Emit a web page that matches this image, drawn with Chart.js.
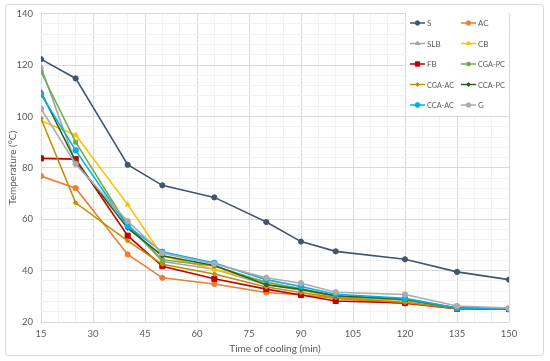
<!DOCTYPE html>
<html>
<head>
<meta charset="utf-8">
<script src="https://cdn.jsdelivr.net/npm/chart.js@4"></script>
<style>
body { margin: 0; background: #fff; }
#wrap { width: 550px; height: 361px; }
</style>
</head>
<body>
<div id="wrap"><canvas id="chart1" width="550" height="361"></canvas></div>
<script>
// cooling time (min) at which each temperature was taken
const times = [15, 25, 40, 50, 65, 80, 90, 100, 120, 135, 150];
const seriesNames = ['S', 'AC', 'SLB', 'CB', 'FB', 'CGA-PC', 'CGA-AC', 'CCA-PC', 'CCA-AC', 'G'];

const tempS     = [122.3, 114.8, 81.2, 73.2, 68.5, 58.9, 51.3, 47.5, 44.4, 39.5, 36.5];
const tempAC    = [76.8, 72.1, 46.3, 37.2, 34.8, 31.5, 30.6, 29.2, 27.2, 25.2, 25.2];
const tempSLB   = [119.3, 81.8, 58.3, 43.5, 40.5, 34.5, 32.5, 30.0, 28.5, 25.4, 25.5];
const tempCB    = [98.3, 92.8, 65.7, 45.8, 40.5, 35.8, 32.5, 29.8, 27.8, 25.3, 25.4];
const tempFB    = [83.7, 83.4, 53.6, 41.7, 36.8, 32.8, 30.5, 28.2, 27.4, 25.2, 25.0];
const tempCGAPC = [117.4, 90.0, 57.5, 44.2, 41.8, 35.4, 33.0, 30.0, 28.6, 25.3, 25.3];
const tempCGAAC = [99.2, 66.4, 51.6, 42.5, 38.7, 33.6, 31.5, 29.5, 27.6, 25.3, 25.4];
const tempCCAPC = [109.5, 82.5, 56.5, 45.8, 42.0, 34.5, 32.7, 30.2, 28.9, 25.4, 25.2];
const tempCCAAC = [108.6, 86.8, 57.3, 47.3, 43.0, 36.5, 33.8, 30.8, 29.2, 25.4, 25.1];
const tempG     = [103.0, 81.5, 59.2, 46.8, 42.6, 37.2, 35.1, 31.6, 30.7, 26.2, 25.4];

const allTemps = [tempS, tempAC, tempSLB, tempCB, tempFB, tempCGAPC, tempCGAAC, tempCCAPC, tempCCAAC, tempG];

const colors = ['#44546A', '#ED7D31', '#A5A5A5', '#FFC000', '#C00000', '#70AD47', '#BF9000', '#2F5F1E', '#00B0F0', '#ACACAC'];
const markers = ['circle', 'circle', 'triangle', 'triangle', 'rect', 'rect', 'rectRot', 'rectRot', 'circle', 'circle'];
const markerSizes = [2.6, 2.6, 2.8, 2.8, 3.6, 2.7, 2.3, 2.3, 2.8, 2.7];

const fontFamily = 'Lato, "Open Sans", sans-serif';
const textColor = '#595959';

const frame = {
    id: 'frame',
    beforeDraw(chart) {
        const ctx = chart.ctx;
        ctx.save();
        ctx.fillStyle = '#fff';
        ctx.fillRect(0, 0, chart.width, chart.height);
        ctx.strokeStyle = '#D9D9D9';
        ctx.lineWidth = 1;
        ctx.beginPath();
        ctx.roundRect(5.5, 4.5, 538, 351, 3);
        ctx.stroke();
        ctx.restore();
    }
};

const boxLegend = {
    id: 'boxLegend',
    afterDraw(chart) {
        const ctx = chart.ctx;
        ctx.save();
        ctx.fillStyle = '#fff';
        ctx.fillRect(406, 13, 102, 102);
        ctx.font = '8px ' + fontFamily;
        ctx.textBaseline = 'middle';
        chart.data.datasets.forEach((ds, i) => {
            const x = 410 + (i % 2) * 51;
            const y = 23 + Math.floor(i / 2) * 20.5;
            ctx.strokeStyle = ds.borderColor;
            ctx.lineWidth = 1.5;
            ctx.beginPath();
            ctx.moveTo(x, y);
            ctx.lineTo(x + 15, y);
            ctx.stroke();
            ctx.fillStyle = ds.backgroundColor;
            ctx.lineWidth = 1;
            Chart.helpers.drawPoint(ctx, { pointStyle: ds.pointStyle, radius: ds.pointRadius * 0.85, borderWidth: 1, rotation: 0 }, x + 7.5, y);
            ctx.fillStyle = textColor;
            ctx.fillText(ds.label, x + 17, y + 0.5, 27);
        });
        ctx.restore();
    }
};

function buildDatasets() {
    return seriesNames.map((name, i) => ({
        label: name,
        data: times.map((t, j) => ({ x: t, y: allTemps[i][j] })),
        borderColor: colors[i],
        backgroundColor: colors[i],
        borderWidth: 1.6,
        pointStyle: markers[i],
        pointRadius: markerSizes[i],
        pointBorderWidth: 1,
        tension: 0,
        order: seriesNames.length - i
    }));
}

function createCoolingChart(chartId) {
    const ctx = document.getElementById(chartId).getContext('2d');
    new Chart(ctx, {
        type: 'line',
        data: { datasets: buildDatasets() },
        options: {
            responsive: false,
            animation: false,
            layout: { padding: { left: 6, right: 41, top: 12, bottom: 5 } },
            plugins: {
                legend: { display: false },
                tooltip: { enabled: false }
            },
            scales: {
                x: {
                    type: 'linear',
                    min: 15,
                    max: 150,
                    afterFit: scale => { scale.height = 34; },
                    ticks: {
                        stepSize: 5,
                        autoSkip: false,
                        maxRotation: 0,
                        padding: 6,
                        color: textColor,
                        font: { family: fontFamily, size: 9.5 },
                        callback: v => (v % 15 === 0 ? v : '')
                    },
                    grid: {
                        drawTicks: false,
                        color: c => (c.tick && c.tick.value % 15 === 0 ? '#D9D9D9' : '#F2F2F2')
                    },
                    border: { display: false },
                    title: {
                        display: true,
                        text: 'Time of cooling (min)',
                        color: textColor,
                        font: { family: fontFamily, size: 10 },
                        padding: { top: 0, bottom: 1 }
                    }
                },
                y: {
                    min: 20,
                    max: 140,
                    afterFit: scale => { scale.width = 35; },
                    ticks: {
                        stepSize: 4,
                        autoSkip: false,
                        padding: 8,
                        color: textColor,
                        font: { family: fontFamily, size: 9.5 },
                        callback: v => (v % 20 === 0 ? v : '')
                    },
                    grid: {
                        drawTicks: false,
                        color: c => (c.tick && c.tick.value % 20 === 0 ? '#D9D9D9' : '#F2F2F2')
                    },
                    border: { display: false },
                    title: {
                        display: true,
                        text: 'Temperature (°C)',
                        color: textColor,
                        font: { family: fontFamily, size: 10 },
                        padding: { top: 1, bottom: 0 }
                    }
                }
            }
        },
        plugins: [frame, boxLegend]
    });
}

createCoolingChart('chart1');
</script>
</body>
</html>
